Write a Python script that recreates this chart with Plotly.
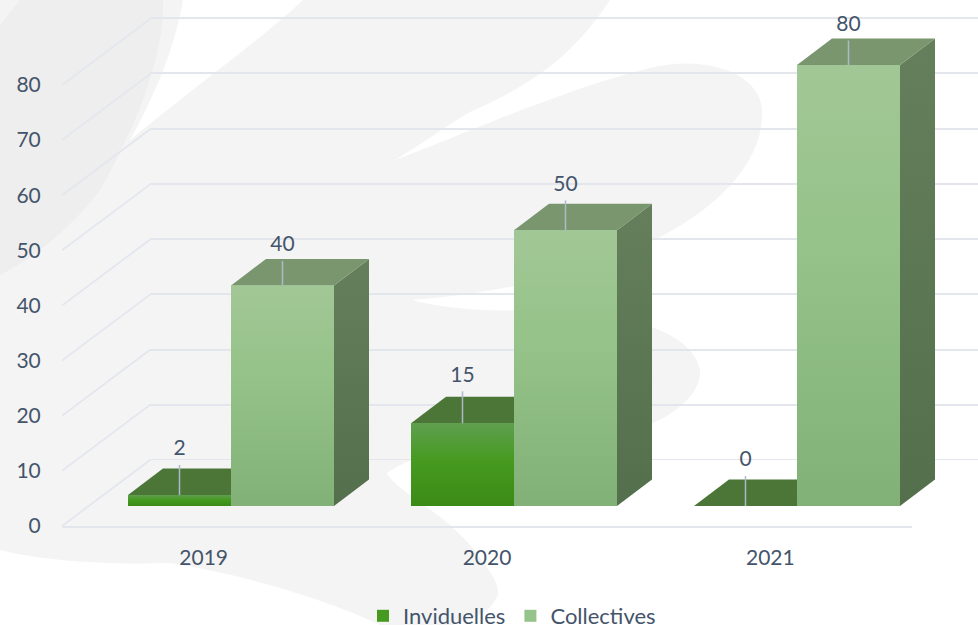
import plotly.graph_objects as go

# ---- data ----
years = [2019, 2020, 2021]
inviduelles = [2, 15, 0]
collectives = [40, 50, 80]
y_ticks = [0, 10, 20, 30, 40, 50, 60, 70, 80]
series_names = ["Inviduelles", "Collectives"]

# ---- page / projection ----
W, H = 978, 625
PX_Y = 5.5125            # px per value unit
PX_X = 283.0             # px per category
TXT = "#44546a"
GRID = "#e3e6ec"
BAR_W = 103 / PX_X
DX, DY = 35 / PX_X, 26.5 / PX_Y            # bar depth
WALL_DX, WALL_DY = 88 / PX_X, 66 / PX_Y    # floor depth
STEMS_I = [30, 32, 30]   # leader lengths, px
STEMS_C = [24.5, 30, 24.5]
LABEL_GAP = 4.5 / PX_Y

G_FRONT_I = [[0, "#3b8a16"], [0.55, "#469a20"], [1, "#5f9f4f"]]
G_FRONT_C = [[0, "#82b177"], [0.6, "#95c389"], [1, "#a2c796"]]
G_SIDE_C = [[0, "#536f4b"], [1, "#657f5d"]]
TOP_I, TOP_C = "#4b7638", "#79966f"


def px(path):
    """Background artwork given in page pixels -> paper fractions."""
    out = []
    for tok in path.split():
        if "," in tok:
            a, b = tok.split(",")
            out.append(f"{float(a)/W:.5f},{1-float(b)/H:.5f}")
        else:
            out.append(tok)
    return " ".join(out)


BG_LIGHT = ("M 303,0 L 610,0 C 570,60 530,85 470,112 C 440,130 420,145 395,160 "
            "C 450,140 560,90 650,68 C 700,55 760,70 762,110 C 765,170 700,225 620,255 "
            "C 560,280 480,295 412,300 C 440,308 490,312 520,310 C 590,310 690,320 700,370 "
            "C 702,400 660,425 620,435 C 540,445 430,440 387,473 C 395,490 440,510 470,545 "
            "C 490,570 505,590 495,600 C 490,612 470,620 452,625 L 380,625 "
            "C 340,605 250,575 170,563 C 100,565 40,560 0,550 L 0,0 L 183,0 "
            "C 175,50 150,105 130,140 C 210,75 260,40 303,0 Z")
BG_DARK = ("M 20,0 L 163,0 C 165,50 140,120 100,190 C 70,230 30,260 0,275 L 0,25 Z")

fig = go.Figure()

# --- front axis plane: tick labels, floor edge, diagonal wall lines ---
dx_line, dy_line = [], []
for v in y_ticks:
    dx_line += [2018.5, 2018.5 + WALL_DX, None]
    dy_line += [v, v + WALL_DY, None]
fig.add_trace(go.Scatter(x=dx_line, y=dy_line, mode="lines", xaxis="x", yaxis="y",
                         line=dict(color=GRID, width=1.8), showlegend=False,
                         hoverinfo="skip", cliponaxis=False))

# --- back wall: native gridlines, floor back edge ---
fig.add_trace(go.Scatter(x=years + [years[-1] + 1], y=[0] * 4, mode="lines", xaxis="x2", yaxis="y2",
                         line=dict(color=GRID, width=2), showlegend=False, hoverinfo="skip",
                         cliponaxis=False))

# --- real bars through the library's scales ---
fig.add_trace(go.Bar(name=series_names[0], x=years, y=inviduelles, xaxis="x3", yaxis="y3",
                     marker=dict(color="#469a20", line=dict(width=0))))
fig.add_trace(go.Bar(name=series_names[1], x=years, y=collectives, xaxis="x3", yaxis="y3",
                     marker=dict(color="#95c389", line=dict(width=0))))


def poly(xs, ys, color=None, grad=None):
    kw = dict(fillcolor=color) if color else dict(fillgradient=dict(type="vertical", colorscale=grad))
    fig.add_trace(go.Scatter(x=xs + xs[:1], y=ys + ys[:1], mode="lines", fill="toself",
                             line=dict(width=0, color="rgba(0,0,0,0)"), xaxis="x3", yaxis="y3",
                             showlegend=False, hoverinfo="skip", **kw))


# --- Inviduelles top + front ---
for yr, v in zip(years, inviduelles):
    l, r = yr - BAR_W, yr
    poly([l, r, r + DX, l + DX], [v, v, v + DY, v + DY], color=TOP_I)
    if v > 0:
        poly([l, r, r, l], [0, 0, v, v], grad=G_FRONT_I)

# --- Collectives side + top + front ---
for yr, v in zip(years, collectives):
    l, r = yr, yr + BAR_W
    poly([r, r + DX, r + DX, r], [0, DY, v + DY, v], grad=G_SIDE_C)
    poly([l, r, r + DX, l + DX], [v, v, v + DY, v + DY], color=TOP_C)
    poly([l, r, r, l], [0, 0, v, v], grad=G_FRONT_C)

# --- leader stems and value labels ---
sx, sy, lx, ly, lt = [], [], [], [], []
for yr, v, s in zip(years, inviduelles, STEMS_I):
    c, s = yr - BAR_W / 2, s / PX_Y
    sx += [c, c, None]; sy += [v, v + s, None]
    lx.append(c); ly.append(v + s + LABEL_GAP); lt.append(str(v))
for yr, v, s in zip(years, collectives, STEMS_C):
    c, s = yr + BAR_W / 2, s / PX_Y
    sx += [c, c, None]; sy += [v, v + s, None]
    lx.append(c); ly.append(v + s + LABEL_GAP); lt.append(str(v))
fig.add_trace(go.Scatter(x=sx, y=sy, mode="lines", xaxis="x3", yaxis="y3",
                         line=dict(color="#adb9ca", width=1.5), showlegend=False, hoverinfo="skip"))
fig.add_trace(go.Scatter(x=lx, y=ly, text=lt, mode="text", textposition="top center",
                         textfont=dict(size=21, color=TXT, family="Lato"), xaxis="x3", yaxis="y3",
                         showlegend=False, hoverinfo="skip", cliponaxis=False))

fig.update_layout(
    width=W, height=H, margin=dict(l=0, r=0, t=0, b=0, autoexpand=False), autosize=False,
    paper_bgcolor="white", plot_bgcolor="rgba(0,0,0,0)",
    font=dict(family="Lato", size=21, color=TXT),
    hovermode=False, barmode="group", bargap=1 - 2 * BAR_W, bargroupgap=0,
    showlegend=True,
    legend=dict(orientation="h", x=363 / W, xanchor="left", y=1 - 595 / H, yanchor="top",
                bgcolor="rgba(0,0,0,0)", font=dict(size=22, color=TXT), traceorder="normal"),
    shapes=[
        dict(type="path", xref="paper", yref="paper", path=px(BG_LIGHT), fillcolor="#f4f4f5",
             line=dict(width=0), layer="below"),
        dict(type="path", xref="paper", yref="paper", path=px(BG_DARK), fillcolor="#eeeeee",
             line=dict(width=0), layer="below"),
    ],
    # front plane
    xaxis=dict(domain=[62 / W, 912 / W], range=[2018.5, 2021.5], tickvals=years,
               ticktext=[str(y) for y in years], showgrid=False, zeroline=False, showline=True,
               linecolor=GRID, linewidth=2, ticks="outside", ticklen=12,
               tickcolor="rgba(0,0,0,0)", anchor="y"),
    yaxis=dict(domain=[(H - 526) / H, 1], range=[0, 526 / PX_Y], tickvals=y_ticks, showgrid=False,
               zeroline=False, ticks="outside", ticklen=16, tickcolor="rgba(0,0,0,0)", anchor="x"),
    # back wall
    xaxis2=dict(domain=[150 / W, 1], range=[2019, 2022], visible=False, anchor="y2"),
    yaxis2=dict(domain=[(H - 460) / H, 1], range=[0, 460 / 5.525], tickvals=y_ticks, showgrid=True,
                gridcolor=GRID, gridwidth=2, zeroline=False, showticklabels=False, ticks="",
                showline=False, anchor="x2"),
    # bar plane
    xaxis3=dict(domain=[0, 1], range=[2019 - 231 / PX_X, 2019 + (W - 231) / PX_X], visible=False,
                anchor="y3"),
    yaxis3=dict(domain=[(H - 506) / H, 1], range=[0, 506 / PX_Y], visible=False, anchor="x3"),
)

fig.write_html("out.html", config={"displayModeBar": False},
               post_script="document.body.style.margin='0';document.body.style.overflow='hidden';")
